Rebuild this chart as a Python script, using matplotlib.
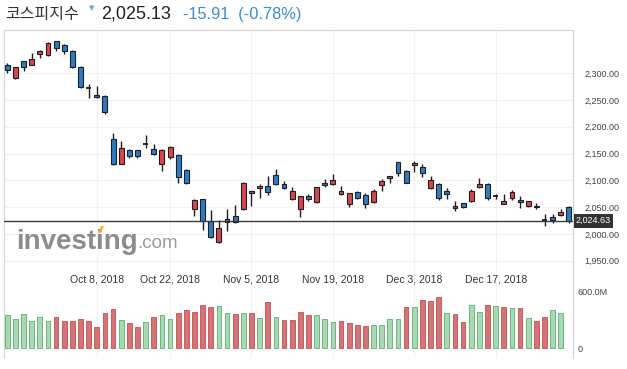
import matplotlib
matplotlib.use("Agg")
import matplotlib.pyplot as plt
from matplotlib.patches import Polygon

# KOSPI daily candles, Sep 17 2018 .. Jan 2 2019 (trading days only)
opens = [2316, 2290, 2322, 2316, 2335, 2333, 2359, 2352, 2341, 2312,
         2271, 2260, 2257, 2177, 2131, 2156, 2156, 2168, 2158, 2130,
         2143, 2148, 2119, 2046, 2065, 2025, 1985, 2022, 2033, 2046,
         2080, 2085, 2089, 2110, 2093, 2065, 2046, 2070, 2059, 2096,
         2094, 2074, 2055, 2078, 2072, 2059, 2091, 2104, 2134, 2117,
         2128, 2124, 2085, 2094, 2081, 2048, 2057, 2061, 2087, 2094,
         2070, 2055, 2068, 2063, 2052, 2050, 2026.5, 2031, 2035, 2050]
highs = [2318, 2312, 2323, 2337, 2344, 2358, 2360, 2355, 2344, 2313,
         2279, 2276, 2259, 2188, 2173, 2158, 2157, 2185, 2168, 2158,
         2165, 2149, 2121, 2065, 2066, 2045, 2027, 2046, 2054, 2097,
         2081, 2093, 2108, 2121, 2099, 2087, 2071, 2074, 2088, 2102,
         2112, 2089, 2077, 2081, 2076, 2083, 2102, 2108, 2135, 2119,
         2136, 2130, 2108, 2095, 2085, 2061, 2058, 2084, 2104, 2095,
         2075, 2075, 2082, 2070, 2061, 2057, 2037, 2037, 2046, 2052]
lows = [2300, 2289, 2304, 2315, 2329, 2332, 2342, 2336, 2310, 2273,
        2254, 2254, 2224, 2129, 2130, 2142, 2141, 2161, 2148, 2118,
        2139, 2096, 2093, 2034, 2007, 1993, 1984, 2006, 2021, 2045,
        2053, 2068, 2073, 2092, 2083, 2064, 2032, 2061, 2057, 2087,
        2091, 2073, 2050, 2066, 2048, 2058, 2080, 2095, 2108, 2095,
        2115, 2106, 2084, 2064, 2066, 2043, 2048, 2060, 2086, 2063,
        2066, 2055, 2063, 2048, 2050, 2046, 2015, 2020, 2034, 2021]
closes = [2306, 2311, 2311, 2326, 2342, 2357, 2346, 2341, 2311, 2275,
          2271.5, 2255, 2228, 2130, 2161, 2145, 2144.5, 2168.5, 2149, 2157,
          2163, 2106, 2096, 2063, 2025, 1994, 2012, 2028, 2022, 2096,
          2076, 2089, 2078, 2093, 2085, 2080, 2070, 2066, 2087, 2091,
          2100, 2081, 2076, 2068, 2055, 2081, 2098, 2108, 2113, 2096,
          2132, 2113, 2100, 2068, 2074, 2052, 2051, 2081, 2094, 2068,
          2070.5, 2061, 2078, 2059, 2061, 2053, 2025.5, 2026.5, 2040.5, 2025]
# volume in millions (today's bar not shown yet)
volumes = [351, 309, 354, 288, 330, 288, 323, 281, 288, 309,
           288, 218, 372, 414, 295, 267, 225, 277, 330, 351,
           309, 372, 404, 382, 456, 435, 446, 372, 354, 368,
           365, 319, 488, 330, 298, 298, 382, 344, 351, 309,
           277, 288, 267, 246, 235, 246, 246, 309, 309, 435,
           435, 509, 498, 540, 372, 354, 277, 456, 382, 456,
           446, 435, 425, 425, 319, 288, 330, 404, 365]

tick_idx = [11, 20, 30, 40, 50, 60]
tick_labels = ["Oct 8, 2018", "Oct 22, 2018", "Nov 5, 2018",
               "Nov 19, 2018", "Dec 3, 2018", "Dec 17, 2018"]
price_ticks = [1950, 2000, 2050, 2100, 2150, 2200, 2250, 2300]
last_price = 2024.63

W, H = 627, 369
UP, DOWN = "#d9454f", "#2d7cc3"
EDGE = "#1e1e1e"
GRID = "#f1f1f1"
SPINE = "#d4d4d4"


def rect(l, t, r, b):
    return [l / W, 1 - b / H, (r - l) / W, (b - t) / H]


fig = plt.figure(figsize=(W / 100, H / 100), dpi=100)
ax = fig.add_axes(rect(4, 30, 573, 286))
axv = fig.add_axes(rect(4, 286, 573, 358), sharex=ax)

n = len(closes)
idx = list(range(n))

# candles
for i in idx:
    o, h, l, c = opens[i], highs[i], lows[i], closes[i]
    ax.vlines(i, l, h, color=EDGE, lw=1, zorder=3)
    if abs(c - o) <= 1.5:
        ax.hlines(c, i - 0.33, i + 0.33, color=EDGE, lw=1.3, zorder=4)
    else:
        ax.bar(i, abs(c - o), bottom=min(o, c), width=0.6,
               color=UP if c > o else DOWN, edgecolor=EDGE, lw=0.8, zorder=4)

ax.axhline(last_price, color="#3a3a3a", lw=1, zorder=5)
ax.annotate(f"{last_price:,.2f}", xy=(1, last_price),
            xycoords=("axes fraction", "data"), xytext=(2, 0),
            textcoords="offset points", va="center", ha="left",
            fontsize=6.5, color="white", family="Liberation Sans",
            bbox=dict(boxstyle="square,pad=0.25", fc="#333333", ec="none"),
            annotation_clip=False, zorder=6)

ax.set_xlim(-0.4, 69.5)
ax.set_ylim(1903, 2380.4)
ax.yaxis.tick_right()
ax.set_yticks(price_ticks)
ax.set_yticklabels([f"{v:,.2f}" for v in price_ticks])
ax.set_xticks(tick_idx)
ax.set_xticklabels(tick_labels)
ax.tick_params(axis="y", length=0, pad=8, labelsize=6.5, labelcolor="#444444")
ax.tick_params(axis="x", length=0, pad=-8.3, labelsize=7.5, labelcolor="#333333")
for t in ax.get_xticklabels() + ax.get_yticklabels():
    t.set_family("Liberation Sans")
ax.grid(True, color=GRID, lw=0.8, zorder=0)
for s in ["top", "left", "right"]:
    ax.spines[s].set_color(SPINE)
ax.spines["bottom"].set_visible(False)

# volume
vcol, vedge = [], []
for i in range(len(volumes)):
    up = i == 0 or closes[i] >= closes[i - 1]
    vcol.append("#a6dab0" if up else "#d67475")
    vedge.append("#6fb47e" if up else "#c85f61")
axv.bar(range(len(volumes)), volumes, width=0.58, color=vcol,
        edgecolor=vedge, lw=0.7, zorder=3)
axv.set_ylim(-105, 653)
axv.yaxis.tick_right()
axv.set_yticks([0, 600])
axv.set_yticklabels(["0", "600.0M"])
axv.tick_params(axis="y", length=0, pad=3.5, labelsize=6.5, labelcolor="#444444")
axv.tick_params(axis="x", length=0, labelbottom=False)
for t in axv.get_yticklabels():
    t.set_family("Liberation Sans")
axv.grid(axis="x", color=GRID, lw=0.8, zorder=0)
axv.spines["top"].set_visible(False)
axv.spines["bottom"].set_visible(False)
axv.spines["left"].set_color(SPINE)
axv.spines["right"].set_color(SPINE)

# header
fig.text(5 / W, 1 - 14 / H, "코스피지수", family="Noto Sans CJK KR",
         fontsize=11.5, color="#333333", va="center")
fig.text(89 / W, 1 - 8 / H, "▼", family="DejaVu Sans", fontsize=5,
         color="#55a8e0", va="center")
fig.text(101 / W, 1 - 14 / H, "2,025.13", family="Liberation Sans",
         fontsize=13, color="#222222", va="center")
fig.text(183 / W, 1 - 14 / H, "-15.91  (-0.78%)", family="Liberation Sans",
         fontsize=11.8, color="#3d8bd0", va="center")

# watermark
fig.text(16 / W, 1 - 242 / H, "investing", family="Liberation Sans",
         fontweight="bold", fontsize=20, color="#8c8c8c", va="center")
fig.text(137 / W, 1 - 244 / H, ".com", family="Liberation Sans",
         fontsize=13.5, color="#9c9c9c", va="center")
fig.patches.append(Polygon([[98 / W, 1 - 233 / H], [101 / W, 1 - 233 / H],
                            [104 / W, 1 - 226 / H], [101 / W, 1 - 226 / H]],
                           closed=True, transform=fig.transFigure,
                           fc="#f0b429", ec="none", zorder=5))

fig.savefig("out.png", dpi=100)
plt.close(fig)
